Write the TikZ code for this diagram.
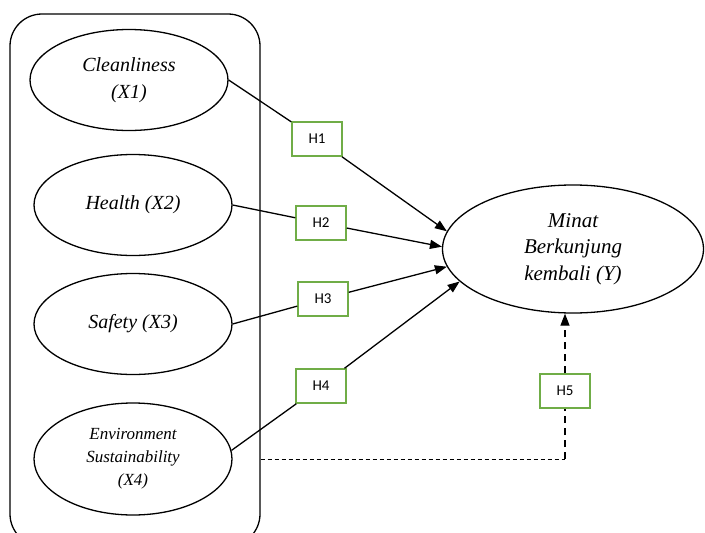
\documentclass[tikz,border=0pt]{standalone}
\usepackage{fontspec}
\setmainfont{Liberation Serif}
\newfontfamily\hypfont{Carlito}
\usetikzlibrary{shapes.geometric,arrows.meta}
\definecolor{hypgreen}{RGB}{112,173,71}

\begin{document}
\begin{tikzpicture}[x=1pt,y=-1pt,
  var/.style={draw,ellipse,line width=1.3pt,minimum width=198pt,minimum height=101pt,
    inner sep=0pt,align=center,font=\fontsize{20}{27}\selectfont\itshape},
  hyp/.style={draw=hypgreen,line width=1.5pt,minimum width=50pt,minimum height=34pt,
    inner sep=0pt,font=\hypfont\fontsize{15}{17}\selectfont},
  link/.style={line width=1.3pt},
  tip/.style={-{Triangle[length=12pt,width=9pt]}}]

\useasboundingbox (0,0) rectangle (705,533);
\clip (0,0) rectangle (705,533);

% group of the four X variables
\node[draw,rounded corners=32pt,line width=1.3pt,minimum width=250pt,minimum height=532pt] (frame) at (135,280) {};

\node[var] (X1) at (129,80) {Cleanliness\\(X1)};
\node[var] (X2) at (133,205) {Health (X2)};
\node[var] (X3) at (133,324) {Safety (X3)};
\node[var,minimum height=112pt,font=\fontsize{17}{23}\selectfont\itshape] (X4) at (133,459) {Environment\\Sustainability\\(X4)};
\node[var,minimum width=261pt,minimum height=128pt,font=\fontsize{21}{26.5}\selectfont\itshape] (Y) at (573,249) {Minat\\Berkunjung\\kembali (Y)};

\node[hyp] (H1) at (317,139) {H1};
\node[hyp] (H2) at (321,223) {H2};
\node[hyp] (H3) at (323,299) {H3};
\node[hyp] (H4) at (321,386) {H4};
\node[hyp] (H5) at (565,391) {H5};

\foreach \from/\h/\to in {X1.east/H1/172,X2.east/H2/179,X3.east/H3/188,X4.5/H4/196}{
  \draw[link] (\from) -- (\h);
  \draw[link,tip] (\h) -- (Y.\to);
}

% moderating path
\coordinate (bend) at (H5 |- X4);
\draw[line width=0.8pt,dash pattern=on 4pt off 3pt] (frame.east |- X4) -- (bend);
\draw[link,dash pattern=on 7pt off 5pt] (bend) -- (H5);
\draw[link,tip,dash pattern=on 7pt off 5pt] (H5) -- (H5 |- Y.south);
\end{tikzpicture}
\end{document}
